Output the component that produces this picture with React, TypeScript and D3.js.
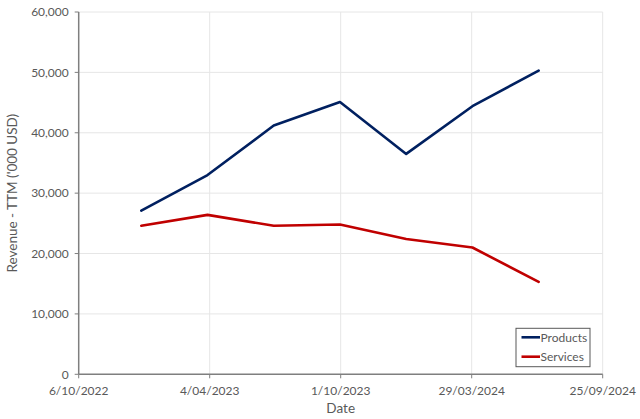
import React from "react";
import * as d3 from "d3";

const dates = ["2022-12-31", "2023-04-01", "2023-07-01", "2023-09-30", "2023-12-30", "2024-03-30", "2024-06-29"];
const products = [27100, 33000, 41200, 45100, 36500, 44400, 50300];
const services = [24600, 26400, 24600, 24800, 22400, 21000, 15300];
const xTickLabels = ["6/10/2022", "4/04/2023", "1/10/2023", "29/03/2024", "25/09/2024"];
const yTicks = [0, 10000, 20000, 30000, 40000, 50000, 60000];
const seriesNames = ["Products", "Services"];
const seriesColors = ["#002060", "#C00000"];

const W = 640, H = 419;
const left = 78.7, right = 602.7, top = 12, bottom = 374.3;
const FONT = "Lato, 'Open Sans', sans-serif";
const TXT = "#595959";

function parseDMY(s: string) {
  const [d, m, y] = s.split("/").map(Number);
  return new Date(Date.UTC(y, m - 1, d));
}

export default function App() {
  const x = d3.scaleUtc().domain([parseDMY(xTickLabels[0]), parseDMY(xTickLabels[xTickLabels.length - 1])]).range([left, right]);
  const y = d3.scaleLinear().domain([0, 60000]).range([bottom, top]);
  const fmt = d3.format(",");
  const pts = dates.map((d) => new Date(d + "T00:00:00Z"));
  const line = d3.line<[Date, number]>().x((d) => x(d[0])).y((d) => y(d[1]));
  const series = [products, services];

  return (
    <svg width={W} height={H} style={{ position: "absolute", left: 0, top: 0, background: "#fff" }} fontFamily={FONT}>
      {/* gridlines */}
      {yTicks.slice(1).map((t) => (
        <line key={"gy" + t} x1={left} x2={right} y1={y(t)} y2={y(t)} stroke="#e6e6e6" strokeWidth={1} />
      ))}
      {xTickLabels.slice(1).map((t) => (
        <line key={"gx" + t} x1={x(parseDMY(t))} x2={x(parseDMY(t))} y1={top} y2={bottom} stroke="#e6e6e6" strokeWidth={1} />
      ))}
      {/* axes */}
      <line x1={left} x2={left} y1={top} y2={bottom} stroke="#7f7f7f" strokeWidth={1.5} />
      <line x1={left} x2={right} y1={bottom} y2={bottom} stroke="#7f7f7f" strokeWidth={1.5} />
      {yTicks.map((t) => (
        <g key={"yt" + t}>
          <line x1={left - 4} x2={left} y1={y(t)} y2={y(t)} stroke="#7f7f7f" strokeWidth={1} />
          <text x={left - 10} y={y(t)} dy="0.35em" textAnchor="end" fontSize={12} fill={TXT}>
            {fmt(t)}
          </text>
        </g>
      ))}
      {xTickLabels.map((t) => (
        <g key={"xt" + t}>
          <line x1={x(parseDMY(t))} x2={x(parseDMY(t))} y1={bottom} y2={bottom + 4} stroke="#7f7f7f" strokeWidth={1} />
          <text x={x(parseDMY(t))} y={bottom + 16} dy="0.35em" textAnchor="middle" fontSize={12} fill={TXT}>
            {t}
          </text>
        </g>
      ))}
      <text x={(left + right) / 2} y={408} dy="0.35em" textAnchor="middle" fontSize={13.5} fill={TXT}>
        Date
      </text>
      <text transform={`translate(12,${(top + bottom) / 2}) rotate(-90)`} dy="0.35em" textAnchor="middle" fontSize={13.5} fill={TXT}>
        Revenue - TTM ('000 USD)
      </text>
      {/* lines */}
      {series.map((s, i) => (
        <path
          key={seriesNames[i]}
          d={line(pts.map((p, j) => [p, s[j]] as [Date, number])) || ""}
          fill="none"
          stroke={seriesColors[i]}
          strokeWidth={2.6}
          strokeLinejoin="round"
          strokeLinecap="round"
        />
      ))}
      {/* legend */}
      <rect x={516} y={328.3} width={74} height={38.4} fill="#fff" stroke="#595959" strokeWidth={1} />
      {seriesNames.map((n, i) => (
        <g key={"lg" + n}>
          <line x1={521.5} x2={540} y1={337.3 + i * 19.4} y2={337.3 + i * 19.4} stroke={seriesColors[i]} strokeWidth={2.6} />
          <text x={540.5} y={337.3 + i * 19.4} dy="0.35em" fontSize={12} fill={TXT}>
            {n}
          </text>
        </g>
      ))}
    </svg>
  );
}
